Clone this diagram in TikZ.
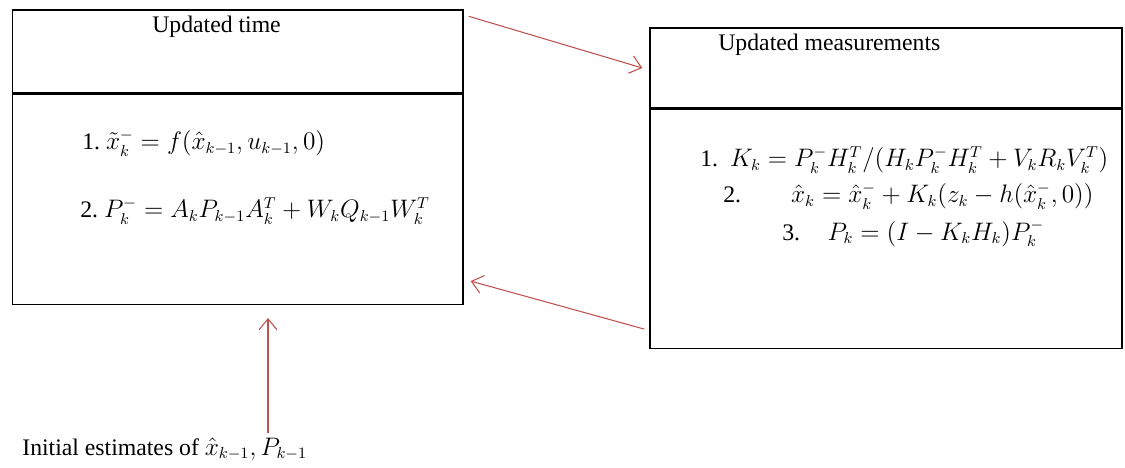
\documentclass[tikz,border=0pt]{standalone}
\usepackage{amsmath}
\usepackage{fontspec}
\setmainfont{Liberation Serif}
\usepackage{tikz}
\usetikzlibrary{arrows.meta,positioning,calc}
\definecolor{arrowred}{RGB}{192,80,77}

\begin{document}
\begin{tikzpicture}[
    part/.style={rectangle, draw, thick, inner sep=0pt},
    title/.style={inner sep=0pt, font=\fontsize{13.5}{16}\selectfont},
    eq/.style={anchor=base west, inner sep=0pt, font=\fontsize{13.5}{16}\selectfont},
    arrow/.style={-{Straight Barb[length=2.2mm,width=3.6mm]}, semithick, arrowred}
]
\useasboundingbox (0,0) rectangle (22.5,-9.36);
% time update
\node[part, minimum width=9.01cm, minimum height=1.66cm] (thead) at (4.755,-1.03) {};
\node[part, minimum width=9.01cm, minimum height=4.2cm, below=0pt of thead] (tbody) {};
\node[title] (ttitle) at (4.33,-0.54) {Updated time};
\node[eq] (teq1) at (1.64,-3.0) {1.\ $\tilde{x}_k^- = f(\hat{x}_{k-1},u_{k-1},0)$};
\node[eq] (teq2) at (1.6,-4.36) {2.\ $P_k^- = A_kP_{k-1}A_k^T + W_kQ_{k-1}W_k^T$};

% measurement update
\node[part, minimum width=9.44cm, minimum height=1.6cm] (mhead) at (17.72,-1.36) {};
\node[part, minimum width=9.44cm, minimum height=4.78cm, below=0pt of mhead] (mbody) {};
\node[title, anchor=west] (mtitle) at (14.36,-0.9) {Updated measurements};
\node[eq] (meq1) at (14.0,-3.34) {1.\enspace $K_k = P_k^-H_k^T/(H_kP_k^-H_k^T+V_kR_kV_k^T)$};
\node[eq] (meq2) at (14.46,-4.06) {2.\hspace{1.0cm}$\hat{x}_k = \hat{x}_k^- + K_k(z_k - h(\hat{x}_k^-,0))$};
\node[eq] (meq3) at (15.64,-4.8) {3.\hspace{0.55cm}$P_k = (I - K_kH_k)P_k^-$};

% initial values
\node[eq] (init) at (0.44,-9.1) {Initial estimates of $\hat{x}_{k-1},P_{k-1}$};
\coordinate (tip) at (5.36,-6.36);

\draw[arrow] ($(init.north -| tip)+(0,0.08)$) -- (tip);
\draw[arrow] ($(thead.north east)+(0.1,-0.14)$) -- ($(mhead.west)+(-0.14,0.0)$);
\draw[arrow] ($(mbody.south west)+(-0.1,0.4)$) -- ($(tbody.south east)+(0.14,0.48)$);
\end{tikzpicture}
\end{document}
